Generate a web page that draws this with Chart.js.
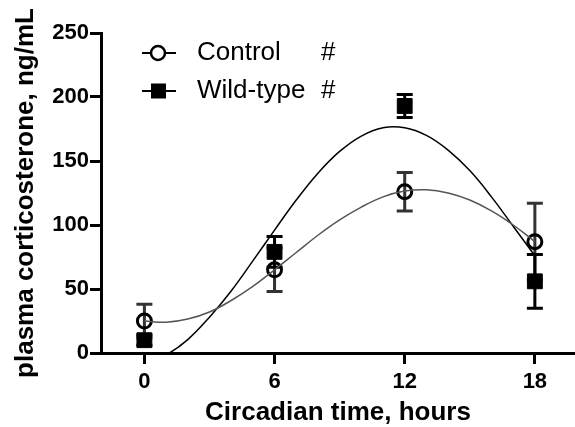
<!DOCTYPE html>
<html>
<head>
<meta charset="utf-8">
<script src="https://cdn.jsdelivr.net/npm/chart.js@4.4.1/dist/chart.umd.min.js"></script>
<style>
  html, body { margin: 0; padding: 0; background: #fff; }
</style>
</head>
<body>
<canvas id="cortChart" width="575" height="427"></canvas>
<script>
// measured points (mean +/- SEM)
const hours = [0, 6, 12, 18];
const controlMean = [25, 65, 126, 87];
const controlErr = [13, 17, 15, 30];
const wildMean = [10, 79, 193, 56];
const wildErr = [4, 12, 9, 21];

// fitted curves
const fitHours = [0, 1, 2, 3, 4, 5, 6, 7, 8, 9, 10, 11, 12, 13, 14, 15, 16, 17, 18];
const controlFit = [25, 24, 26.5, 32, 41, 52, 65, 78.5, 92, 104, 114, 122, 126.5, 127.5, 125, 119.5, 111, 100, 87];
const wildFit = [-8, -1.5, 10.5, 28, 48.5, 72, 96, 119.5, 140.5, 157.5, 169.5, 176, 176, 170, 158.5, 142.5, 122, 99, 76];

const xTicks = [0, 6, 12, 18];
const yTicks = [0, 50, 100, 150, 200, 250];

const legendRows = [
  { label: 'Control', mark: 'circle', note: '#' },
  { label: 'Wild-type', mark: 'square', note: '#' }
];

Chart.defaults.font.family = 'Arial, "Liberation Sans", sans-serif';
Chart.defaults.color = '#000';

const pts = (xs, ys) => xs.map((x, i) => ({ x: x, y: ys[i] }));

const errorBars = {
  id: 'errorBars',
  beforeDatasetsDraw(chart) {
    const { ctx, scales: { x, y } } = chart;
    chart.data.datasets.forEach((ds) => {
      if (!ds.errors) return;
      ctx.save();
      ctx.strokeStyle = ds.errorColor;
      ctx.lineWidth = 3;
      ctx.beginPath();
      ds.data.forEach((p, i) => {
        const px = x.getPixelForValue(p.x);
        const top = y.getPixelForValue(p.y + ds.errors[i]);
        const bot = y.getPixelForValue(Math.max(p.y - ds.errors[i], 0));
        ctx.moveTo(px, top); ctx.lineTo(px, bot);
        ctx.moveTo(px - 8, top); ctx.lineTo(px + 8, top);
        ctx.moveTo(px - 8, bot); ctx.lineTo(px + 8, bot);
      });
      ctx.stroke();
      ctx.restore();
    });
  }
};

const legendBox = {
  id: 'legendBox',
  afterDraw(chart) {
    const ctx = chart.ctx;
    ctx.save();
    legendRows.forEach((row, i) => {
      const cy = 53 + i * 38;
      ctx.strokeStyle = '#000';
      ctx.lineWidth = 2;
      ctx.beginPath();
      ctx.moveTo(142, cy); ctx.lineTo(176, cy);
      ctx.stroke();
      if (row.mark === 'circle') {
        ctx.fillStyle = '#fff';
        ctx.lineWidth = 2.5;
        ctx.beginPath();
        ctx.arc(158, cy, 7, 0, Math.PI * 2);
        ctx.fill(); ctx.stroke();
      } else {
        ctx.fillStyle = '#000';
        ctx.fillRect(151, cy - 7.5, 15, 15);
      }
      ctx.fillStyle = '#000';
      ctx.font = '26px Arial, "Liberation Sans", sans-serif';
      ctx.textBaseline = 'middle';
      ctx.textAlign = 'left';
      ctx.fillText(row.label, 197, cy);
      ctx.fillText(row.note, 321, cy);
    });
    ctx.restore();
  }
};

const axisStyle = {
  grid: { drawOnChartArea: false, drawTicks: true, tickLength: 11, tickWidth: 3, tickColor: '#000' },
  border: { display: true, width: 3, color: '#000' }
};

new Chart(document.getElementById('cortChart'), {
  type: 'line',
  data: {
    datasets: [
      {
        label: 'Control fit',
        data: pts(fitHours, controlFit),
        borderColor: '#555',
        borderWidth: 1.5,
        pointRadius: 0,
        tension: 0.4,
        fill: false,
        order: 1
      },
      {
        label: 'Wild-type fit',
        data: pts(fitHours, wildFit),
        borderColor: '#000',
        borderWidth: 1.5,
        pointRadius: 0,
        tension: 0.4,
        fill: false,
        order: 1
      },
      {
        label: 'Control',
        data: pts(hours, controlMean),
        errors: controlErr,
        errorColor: '#333',
        showLine: false,
        pointStyle: 'circle',
        pointRadius: 7,
        pointBorderWidth: 3,
        pointBorderColor: '#000',
        pointBackgroundColor: 'rgba(255,255,255,0)',
        order: 2
      },
      {
        label: 'Wild-type',
        data: pts(hours, wildMean),
        errors: wildErr,
        errorColor: '#000',
        showLine: false,
        pointStyle: 'rect',
        pointRadius: 10.5,
        pointBorderWidth: 1,
        pointBorderColor: '#000',
        pointBackgroundColor: '#000',
        order: 3
      }
    ]
  },
  options: {
    responsive: false,
    animation: false,
    devicePixelRatio: 1,
    layout: { autoPadding: false, padding: { top: 33, right: 0, bottom: 0, left: 0 } },
    plugins: { legend: { display: false }, tooltip: { enabled: false } },
    scales: {
      x: {
        type: 'linear',
        min: -2,
        max: 19.85,
        afterBuildTicks: s => { s.ticks = xTicks.map(v => ({ value: v })); },
        afterFit: s => { s.height = 74; s.paddingLeft = 0; s.paddingRight = 0; },
        ...axisStyle,
        ticks: { font: { size: 22, weight: 'bold' }, color: '#000', padding: 5, maxRotation: 0 },
        title: {
          display: true,
          text: 'Circadian time, hours',
          font: { size: 26, weight: 'bold', lineHeight: 1.1 },
          color: '#000',
          padding: { top: 0, bottom: 0 }
        }
      },
      y: {
        type: 'linear',
        min: 0,
        max: 250,
        afterBuildTicks: s => { s.ticks = yTicks.map(v => ({ value: v })); },
        afterFit: s => { s.width = 101; },
        ...axisStyle,
        ticks: { font: { size: 22, weight: 'bold' }, color: '#000', padding: 1 },
        title: {
          display: true,
          text: 'plasma corticosterone, ng/mL',
          font: { size: 26, weight: 'bold', lineHeight: 1.1 },
          color: '#000',
          padding: { top: 12, bottom: 0 }
        }
      }
    }
  },
  plugins: [errorBars, legendBox]
});
</script>
</body>
</html>
